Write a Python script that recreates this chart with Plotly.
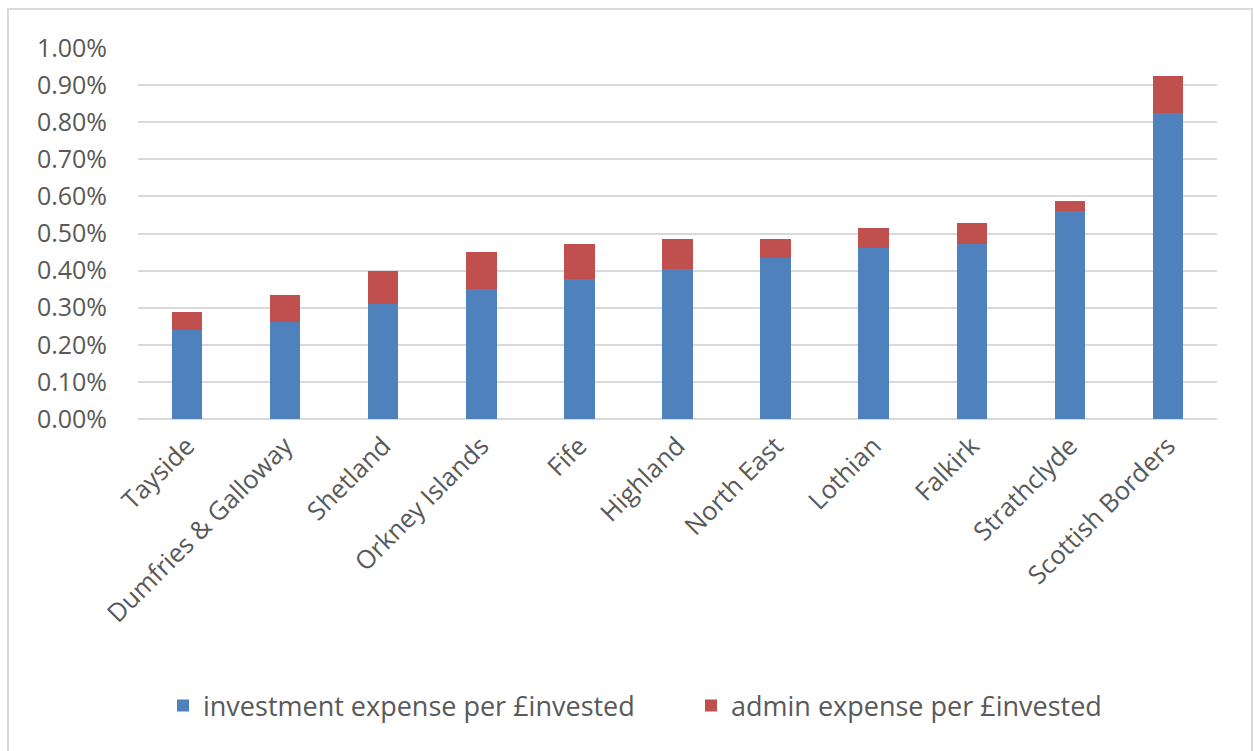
import plotly.graph_objects as go

# Expense ratios per £ invested, by fund (fractions, shown as %)
funds = ["Tayside", "Dumfries & Galloway", "Shetland", "Orkney Islands", "Fife",
         "Highland", "North East", "Lothian", "Falkirk", "Strathclyde", "Scottish Borders"]
investment_expense = [0.00239, 0.00262, 0.00311, 0.00350, 0.00377,
                      0.00404, 0.00435, 0.00462, 0.00472, 0.00561, 0.00825]
admin_expense = [0.00049, 0.00071, 0.00088, 0.00099, 0.00094,
                 0.00081, 0.00050, 0.00054, 0.00057, 0.00027, 0.00099]

W, H = 1254, 751
L, R, T, B = 138, 37, 48, 332
pw, ph = W - L - R, H - T - B

def px_x(x):
    return (x - L) / pw

def px_y(y):
    return (H - B - y) / ph

FONT = "Open Sans"
GREY = "#595959"

fig = go.Figure()
fig.add_trace(go.Bar(name="investment expense per £invested", x=funds, y=investment_expense,
                     marker=dict(color="#4F81BD", line=dict(width=0))))
fig.add_trace(go.Bar(name="admin expense per £invested", x=funds, y=admin_expense,
                     marker=dict(color="#C0504D", line=dict(width=0))))

fig.update_layout(
    width=W, height=H,
    margin=dict(l=L, r=R, t=T, b=B, pad=0),
    barmode="stack",
    bargap=0.69,
    paper_bgcolor="white",
    plot_bgcolor="white",
    font=dict(family=FONT, color=GREY, size=22),
    showlegend=True,
    legend=dict(orientation="h", x=px_x(163), xanchor="left", y=px_y(706), yanchor="middle",
                font=dict(size=27, color=GREY, family=FONT), itemwidth=30,
                entrywidth=483, entrywidthmode="pixels",
                traceorder="normal", bgcolor="rgba(0,0,0,0)"),
    shapes=[dict(type="rect", xref="paper", yref="paper",
                 x0=px_x(8), x1=px_x(1252), y0=px_y(770), y1=px_y(9),
                 line=dict(color="#d9d9d9", width=2), fillcolor="rgba(0,0,0,0)",
                 layer="below")],
)

fig.update_xaxes(
    tickangle=-45,
    tickfont=dict(size=25.5, color=GREY, family=FONT),
    showgrid=False, showline=False, zeroline=False,
    ticks="", ticklabelstandoff=6,
)
fig.update_yaxes(
    range=[0, 0.01], dtick=0.001, tick0=0,
    tickformat=".2%",
    tickfont=dict(size=25, color=GREY, family=FONT),
    showgrid=True, gridcolor="#d9d9d9", gridwidth=2,
    zeroline=True, zerolinecolor="#d9d9d9", zerolinewidth=2,
    showline=False, ticks="", ticklabelstandoff=30,
)

fig.write_html("out.html")
